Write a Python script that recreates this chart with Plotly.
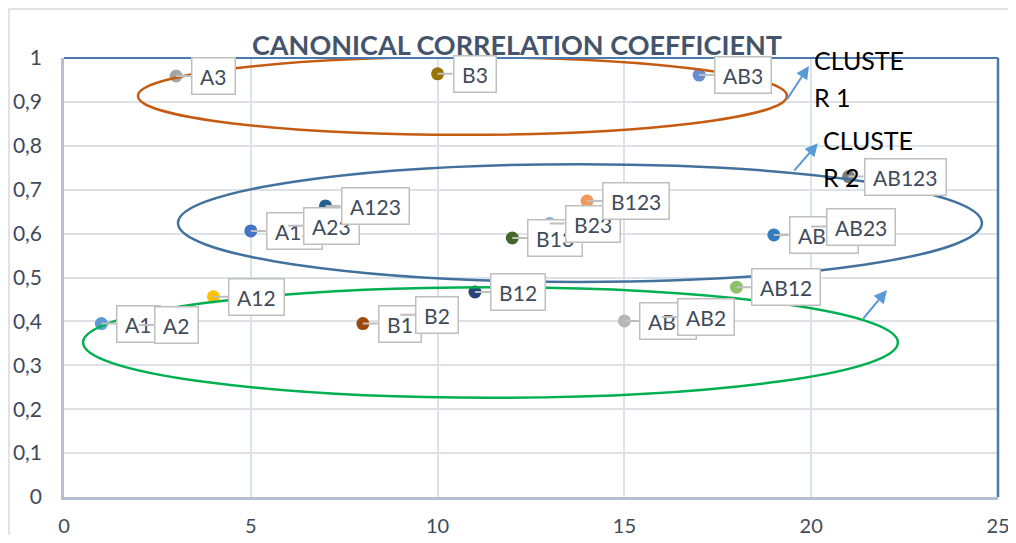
import plotly.graph_objects as go

# ---- data ----
labels = ["A1", "A2", "A3", "A12", "A13", "A23", "A123",
          "B1", "B2", "B3", "B12", "B13", "B23", "B123",
          "AB1", "AB2", "AB3", "AB12", "AB13", "AB23", "AB123"]
x_idx = list(range(1, 22))
ccc = [0.395, 0.392, 0.959, 0.456, 0.606, 0.618, 0.663,
       0.395, 0.415, 0.964, 0.467, 0.590, 0.623, 0.674,
       0.401, 0.410, 0.961, 0.478, 0.597, 0.616, 0.730]
point_colors = ["#5B9BD5", "#ED7D31", "#A5A5A5", "#FFC000", "#4472C4", "#70AD47", "#255E91",
                "#9E480E", "#636363", "#997300", "#264478", "#43682B", "#7CAFDD", "#F1975A",
                "#B7B7B7", "#FFCD33", "#698ED0", "#8CC168", "#327DC2", "#D26012", "#7C7C7C"]

# cluster ellipses (x0, y0, x1, y1) in data units
cluster_boxes = [(1.98, 0.825, 19.35, 1.002),
                 (3.05, 0.490, 24.57, 0.758),
                 (0.51, 0.226, 22.32, 0.478)]
cluster_colors = ["#C55A11", "#41719C", "#00B050"]

# cluster arrows: head position and tail offset (px)
arrow_heads = [(19.94, 0.982), (20.18, 0.806), (22.03, 0.4715)]
arrow_offsets = [(-23, 35), (-25, 29), (-25, 30)]

# cluster text
cluster_text = [("CLUSTE", 20.03, 0.995), ("R 1", 20.03, 0.911),
                ("CLUSTE", 20.25, 0.813), ("R 2", 20.25, 0.729)]

title = "CANONICAL CORRELATION COEFFICIENT"
x_ticks = [0, 5, 10, 15, 20, 25]
y_ticks = [0, 0.1, 0.2, 0.3, 0.4, 0.5, 0.6, 0.7, 0.8, 0.9, 1]

FONT = "Lato"
TXT = "#404B5A"
PLOT_W, PLOT_H = 934, 439
ML, MT = 56, 50
FIG_W, FIG_H = 1008, 527

fig = go.Figure()
fig.add_trace(go.Scatter(
    x=x_idx, y=ccc, mode="markers",
    marker=dict(size=13, color=point_colors, line=dict(width=0)),
    hoverinfo="skip", showlegend=False))

annotations = []
for lab, xv, yv in zip(labels, x_idx, ccc):
    annotations.append(dict(
        x=xv, y=yv, xref="x", yref="y", text="\u2009" + lab + "\u2009",
        showarrow=True, arrowhead=0, arrowwidth=2, arrowcolor="#BFBFBF",
        ax=15, ay=0, xanchor="left", yanchor="middle",
        bgcolor="white", bordercolor="#BFBFBF", borderwidth=1.5, borderpad=5,
        font=dict(family=FONT, size=21, color=TXT)))

for (hx, hy), (ox, oy) in zip(arrow_heads, arrow_offsets):
    annotations.append(dict(
        x=hx, y=hy, xref="x", yref="y", text="", showarrow=True,
        arrowhead=2, arrowsize=1.3, arrowwidth=2, arrowcolor="#5B9BD5",
        ax=ox, ay=oy))

for t, xv, yv in cluster_text:
    annotations.append(dict(
        x=xv, y=yv, xref="x", yref="y", text=t, showarrow=False,
        xanchor="left", yanchor="middle",
        font=dict(family=FONT, size=25, color="black")))

annotations.append(dict(
    x=(509 - ML) / PLOT_W, y=1 + (MT - 37) / PLOT_H, xref="paper", yref="paper",
    text="<b>" + title + "</b>",
    showarrow=False, xanchor="center", yanchor="middle",
    font=dict(family=FONT, size=27, color="#44546A")))

shapes = []
for (x0, y0, x1, y1), c in zip(cluster_boxes, cluster_colors):
    shapes.append(dict(type="circle", xref="x", yref="y", x0=x0, y0=y0, x1=x1, y1=y1,
                       line=dict(color=c, width=2.5), layer="above"))
# plot area border (top, right)
shapes.append(dict(type="line", xref="paper", yref="paper", x0=0, x1=1, y0=1, y1=1,
                   line=dict(color="#4A7AB0", width=2)))
shapes.append(dict(type="line", xref="paper", yref="paper", x0=1, x1=1, y0=0, y1=1,
                   line=dict(color="#4A7AB0", width=2.5)))
# chart area border (left and top edges visible)
shapes.append(dict(type="rect", xref="paper", yref="paper",
                   x0=-(ML - 1) / PLOT_W, x1=1.2, y0=1 + (MT - 1) / PLOT_H, y1=-0.3,
                   line=dict(color="#D9D9D9", width=1.5)))

fig.update_layout(
    width=FIG_W, height=FIG_H,
    margin=dict(l=ML, r=FIG_W - ML - PLOT_W, t=MT, b=FIG_H - MT - PLOT_H, autoexpand=False),
    paper_bgcolor="white", plot_bgcolor="white",
    separators=", ",
    showlegend=False,
    annotations=annotations, shapes=shapes,
    xaxis=dict(range=[0, 25], tickvals=x_ticks, showgrid=True, gridcolor="#DDE2E9", gridwidth=1.5,
               zeroline=False, showline=True, linecolor="#B4C0D2", linewidth=2.5,
               ticks="", ticklabelstandoff=9, automargin=False, ticklabeloverflow="allow",
               tickfont=dict(family=FONT, size=20, color=TXT)),
    yaxis=dict(range=[0, 1], tickvals=y_ticks, showgrid=True, gridcolor="#DDE2E9", gridwidth=1.5,
               zeroline=False, showline=True, linecolor="#B4C0D2", linewidth=2.5,
               ticks="", ticklabelstandoff=15, automargin=False, ticklabeloverflow="allow",
               tickfont=dict(family=FONT, size=21, color=TXT)),
)
fig.write_html("out.html")
